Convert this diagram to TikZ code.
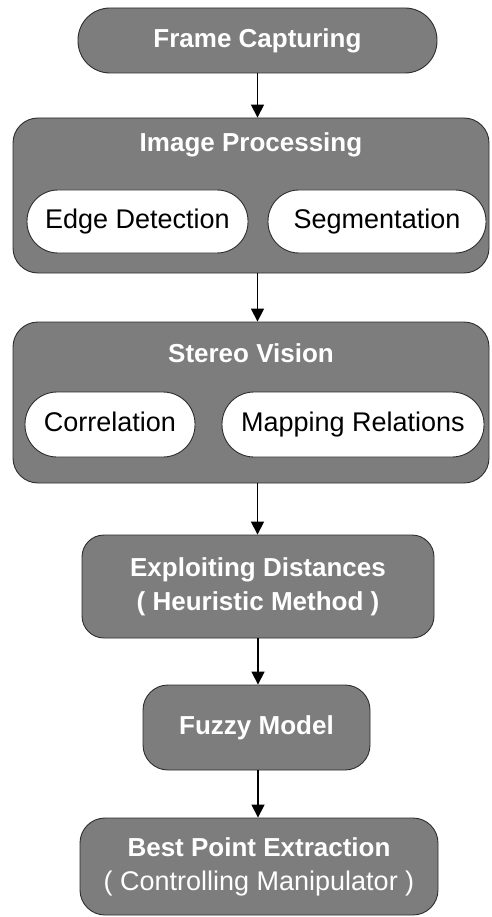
\documentclass[tikz,border=0pt]{standalone}
\usepackage{fontspec}
\setmainfont{Liberation Sans}
\usetikzlibrary{arrows.meta}
\definecolor{boxgray}{RGB}{125,125,125}
\definecolor{edgegray}{RGB}{45,45,45}
\tikzset{
  stage/.style={draw=edgegray, line width=0.9pt, fill=boxgray, text=white,
    font=\bfseries\fontsize{26}{34}\selectfont, align=center, inner sep=0pt},
  pill/.style={draw=edgegray, line width=0.9pt, fill=white, text=black,
    font=\fontsize{27}{30}\selectfont, inner sep=0pt,
    text height=19pt, text depth=5pt},
  title/.style={text=white, font=\bfseries\fontsize{26}{30}\selectfont, inner sep=0pt},
  flow/.style={line width=1.7pt, -{Triangle[length=13pt,width=13pt]}}
}
\begin{document}
\begin{tikzpicture}[x=1pt,y=-1pt]
\useasboundingbox (0,0) rectangle (491,917);
% pipeline stages
\node[stage, minimum width=359pt, minimum height=65pt, rounded corners=32pt]
  (fc) at (257.5,40.5) {Frame Capturing};
\node[stage, minimum width=476pt, minimum height=155pt, rounded corners=25pt]
  (ip) at (251,195.5) {};
\node[title] (iptitle) at (251,145) {Image Processing};
\node[pill, minimum width=221pt, minimum height=63pt, rounded corners=31pt]
  (ed) at (137.5,221.5) {Edge Detection};
\node[pill, minimum width=218pt, minimum height=63pt, rounded corners=31pt]
  (sg) at (377,221.5) {Segmentation};
\node[stage, minimum width=476pt, minimum height=161pt, rounded corners=25pt]
  (sv) at (251,402.5) {};
\node[title] (svtitle) at (251,353) {Stereo Vision};
\node[pill, minimum width=170pt, minimum height=65pt, rounded corners=32pt]
  (co) at (110,424.5) {Correlation};
\node[pill, minimum width=262pt, minimum height=65pt, rounded corners=32pt]
  (mr) at (353,424.5) {Mapping Relations};
\node[stage, minimum width=352pt, minimum height=103pt, rounded corners=22pt]
  (ex) at (258,586.5) {Exploiting Distances\\( Heuristic Method )};
\node[stage, minimum width=227pt, minimum height=85pt, rounded corners=25pt]
  (fm) at (256.5,727.5) {Fuzzy Model};
\node[stage, minimum width=358pt, minimum height=97pt, rounded corners=25pt]
  (bp) at (259,866.5) {Best Point Extraction\\{\normalfont\fontsize{27}{34}\selectfont( Controlling Manipulator )}};
% connectors
\draw[flow] (fc.south) -- (fc.south |- ip.north);
\draw[flow] (fc.south |- ip.south) -- (fc.south |- sv.north);
\draw[flow] (fc.south |- sv.south) -- (fc.south |- ex.north);
\draw[flow] (ex.south) -- (ex.south |- fm.north);
\draw[flow] (ex.south |- fm.south) -- (ex.south |- bp.north);
\end{tikzpicture}
\end{document}
